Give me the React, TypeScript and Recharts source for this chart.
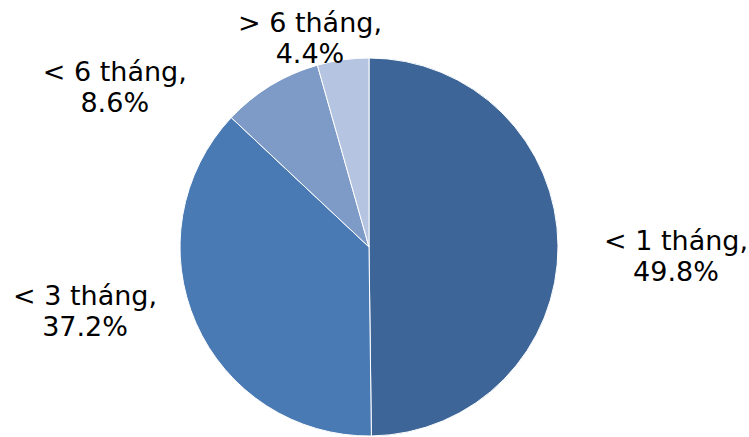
import React from "react";
import { PieChart, Pie, Cell } from "recharts";

const categories = ["< 1 tháng", "< 3 tháng", "< 6 tháng", "> 6 tháng"];
const shares = [49.8, 37.2, 8.6, 4.4];
const colors = ["#3D6597", "#4A7AB4", "#7E9BC8", "#B5C4E0"];

// layout: label offset from the slice's outer edge point at its mid angle
const labelNudges = [
  { dx: 118, dy: 4 },
  { dx: -111, dy: -18 },
  { dx: -156, dy: -5 },
  { dx: -33, dy: -28 },
];

const data = categories.map((name, i) => ({ name, value: shares[i] }));

const RADIAN = Math.PI / 180;
const FONT = "'DejaVu Sans', Verdana, sans-serif";

const renderLabel = (props: any) => {
  const { cx, cy, midAngle, outerRadius, index, value, name } = props;
  const ex = cx + outerRadius * Math.cos(-midAngle * RADIAN);
  const ey = cy + outerRadius * Math.sin(-midAngle * RADIAN);
  const n = labelNudges[index];
  const x = ex + n.dx;
  const y = ey + n.dy;
  return (
    <text
      x={x}
      y={y}
      textAnchor="middle"
      fontFamily={FONT}
      fontSize={27}
      fill="#000"
    >
      <tspan x={x} y={y}>{`${name},`}</tspan>
      <tspan x={x} dy={31}>{`${Number(value).toFixed(1)}%`}</tspan>
    </text>
  );
};

export default function App() {
  return (
    <div style={{ position: "absolute", left: 0, top: 0, width: 749, height: 437, background: "#fff" }}>
      <PieChart width={749} height={437} margin={{ top: 0, right: 0, bottom: 0, left: 0 }}>
        <Pie
          data={data}
          dataKey="value"
          nameKey="name"
          cx={369}
          cy={247}
          outerRadius={189}
          startAngle={90}
          endAngle={-270}
          stroke="#ffffff"
          strokeWidth={1}
          label={renderLabel}
          labelLine={false}
          isAnimationActive={false}
        >
          {data.map((d, i) => (
            <Cell key={d.name} fill={colors[i]} />
          ))}
        </Pie>
      </PieChart>
    </div>
  );
}
